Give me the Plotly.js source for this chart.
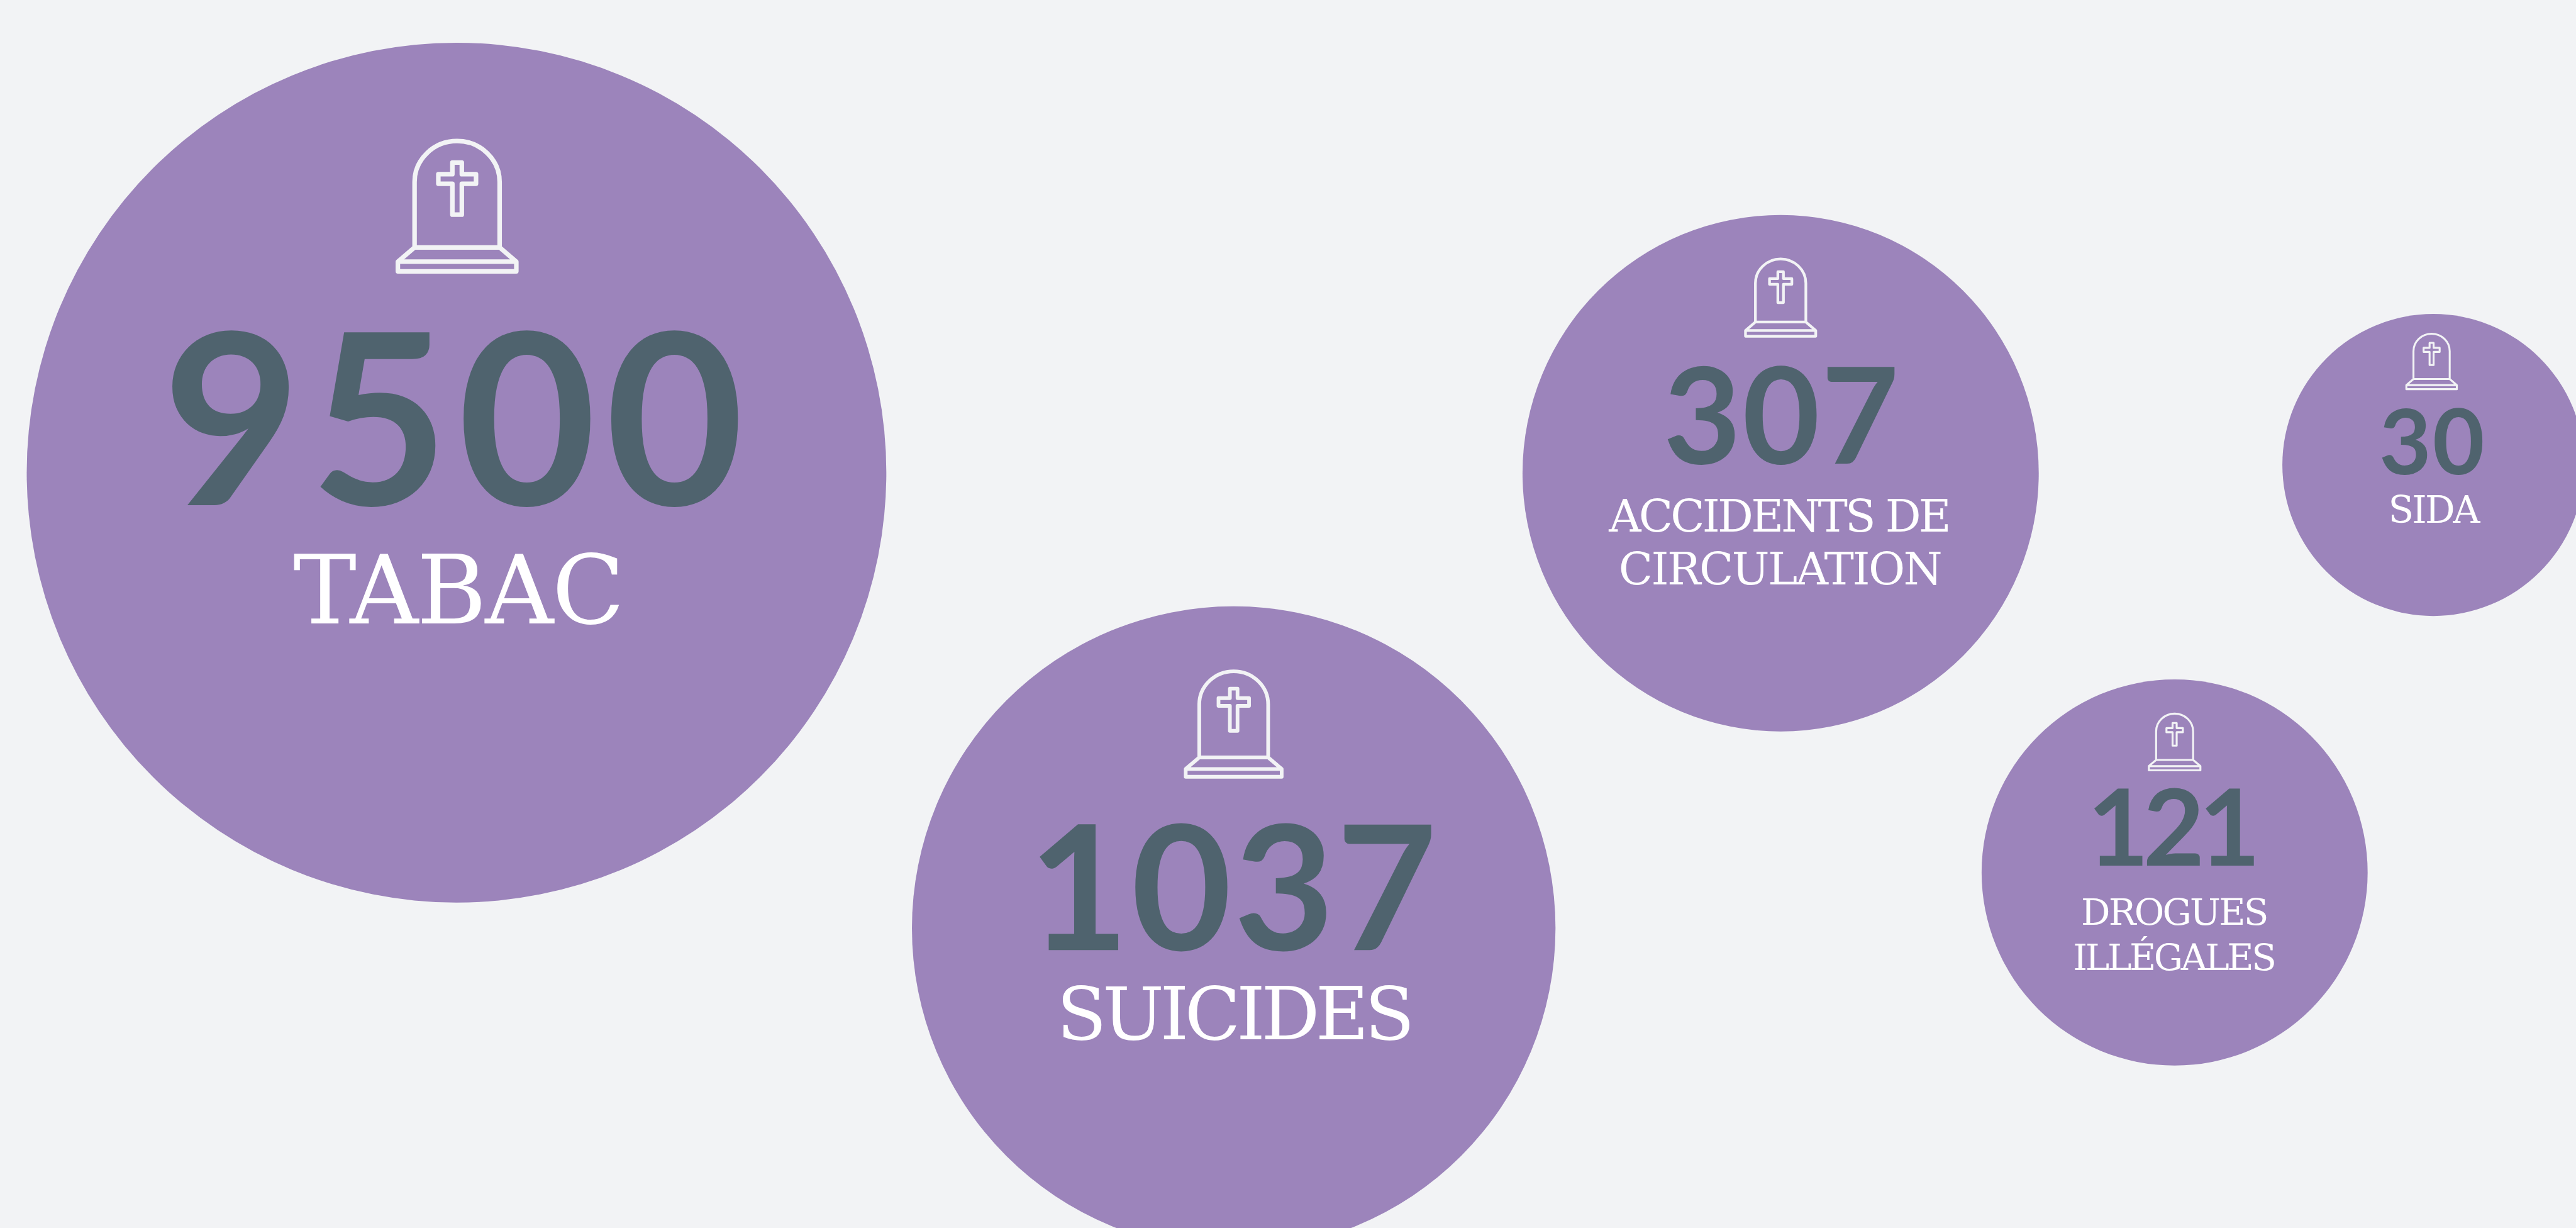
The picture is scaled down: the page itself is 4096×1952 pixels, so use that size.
<!DOCTYPE html>
<html>
<head>
<meta charset="utf-8">
<script src="https://cdn.plot.ly/plotly-3.0.1.min.js"></script>
<style>
html,body{margin:0;padding:0;background:#f2f3f5;overflow:hidden}
#chart{width:4096px;height:1952px}
.shapelayer path{stroke-linejoin:round}
</style>
</head>
<body>
<div id="chart"></div>
<script>
// Data
var categories = ["TABAC", "SUICIDES", "ACCIDENTS DE CIRCULATION", "DROGUES ILLÉGALES", "SIDA"];
var deaths = [9500, 1037, 307, 121, 30];

// Layout (in reference pixels; SCALE converts to window pixels)
var SCALE = 4096 / 4531;
var bubbleX = [803, 2170, 3132, 3825, 4280];
var bubbleY = [831, 1632, 832, 1534, 817.5];
var bubbleD = [1512, 1132, 908, 679, 531];
var iconX = [804, 2170, 3132, 3825, 4277];
var iconTop = [244, 1177, 453, 1253, 585];
var iconScale = [1, 0.81, 0.593, 0.435, 0.426];
var numberX = [805, 2170, 3134, 3818.5, 4278.5];
var numberY = [783, 1594, 756, 1475, 794];
var numberFont = [380, 276, 213, 169, 143];
var numberWidth = [1005, 698, 398, 279, 175];

var labelLines = ["TABAC", "SUICIDES", "ACCIDENTS DE", "CIRCULATION", "DROGUES", "ILLÉGALES", "SIDA"];
var labelX = [806, 2170, 3129, 3130.5, 3824, 3823.5, 4280];
var labelY = [1054, 1795, 915, 1007.5, 1610, 1690, 903];
var labelFont = [151, 116, 71, 71, 58, 58, 59.5];
var labelWidth = [572, 616, 594, 563, 324, 351, 155];

var PURPLE = "#9c84bb", SLATE = "#4f636e", PALE = "#f2f3f5";

function iconPath(cx, top, s) {
  var X = function (v) { return (cx + v * s).toFixed(2); };
  var Y = function (v) { return (top + v * s).toFixed(2); };
  var P = function (a, b) { return X(a) + "," + Y(b); };
  return "M" + P(-74.8, 191) + " L" + P(-74.8, 76) +
    " C" + P(-74.8, 36.2) + " " + P(-41.3, 4) + " " + P(0, 4) +
    " C" + P(41.3, 4) + " " + P(74.8, 36.2) + " " + P(74.8, 76) +
    " L" + P(74.8, 191) + " Z" +
    " M" + P(-74.8, 191) + " L" + P(-104.2, 216) + " L" + P(-104.2, 233) +
    " L" + P(104.2, 233) + " L" + P(104.2, 216) + " L" + P(74.8, 191) +
    " M" + P(-104.2, 216) + " L" + P(104.2, 216) +
    " M" + P(-8.3, 41.7) + " L" + P(8.3, 41.7) + " L" + P(8.3, 62.3) + " L" + P(33.3, 62.3) +
    " L" + P(33.3, 79) + " L" + P(8.3, 79) + " L" + P(8.3, 133.3) + " L" + P(-8.3, 133.3) +
    " L" + P(-8.3, 79) + " L" + P(-33, 79) + " L" + P(-33, 62.3) + " L" + P(-8.3, 62.3) + " Z";
}

var traces = [
  { type: "scatter", mode: "markers", x: bubbleX, y: bubbleY, name: "Décès",
    customdata: deaths, text: categories, hoverinfo: "text",
    marker: { color: PURPLE, size: bubbleD.map(function (d) { return d * SCALE; }), sizemode: "diameter", line: { width: 0 }, opacity: 1 } },
  { type: "scatter", mode: "text", x: numberX, y: numberY, text: deaths.map(String),
    textposition: "middle center", hoverinfo: "skip",
    textfont: { family: "Lato", weight: 700, color: SLATE, size: numberFont } },
  { type: "scatter", mode: "text", x: labelX, y: labelY, text: labelLines,
    textposition: "middle center", hoverinfo: "skip",
    textfont: { family: "DejaVu Serif", color: "#ffffff", size: labelFont } }
];

var shapes = iconX.map(function (cx, i) {
  return { type: "path", xref: "x", yref: "y", layer: "above",
    path: iconPath(cx, iconTop[i], iconScale[i]),
    line: { color: PALE, width: 8 * SCALE * iconScale[i] }, fillcolor: "rgba(0,0,0,0)" };
});

var layout = {
  width: 4096, height: 1952, autosize: false,
  margin: { l: 0, r: 0, t: 0, b: 0, pad: 0 },
  paper_bgcolor: PALE, plot_bgcolor: PALE, showlegend: false,
  xaxis: { range: [0, 4531], visible: false, fixedrange: true },
  yaxis: { range: [2159, 0], visible: false, fixedrange: true },
  shapes: shapes
};

// Fit each text's tracking to the width it has in the reference
function fitTracking(gd) {
  var groups = gd.querySelectorAll(".scatterlayer .trace");
  [[1, numberWidth, numberFont, 0.08], [2, labelWidth, labelFont, 0.05]].forEach(function (g) {
    var nodes = groups[g[0]].querySelectorAll(".textpoint text");
    nodes.forEach(function (t, i) {
      var target = g[1][i] * SCALE + g[3] * g[2][i];
      var n = t.textContent.length;
      var w = t.getComputedTextLength();
      t.style.letterSpacing = ((target - w) / n).toFixed(3) + "px";
    });
  });
}

Plotly.newPlot("chart", traces, layout, { displayModeBar: false, staticPlot: true }).then(fitTracking);
</script>
</body>
</html>
